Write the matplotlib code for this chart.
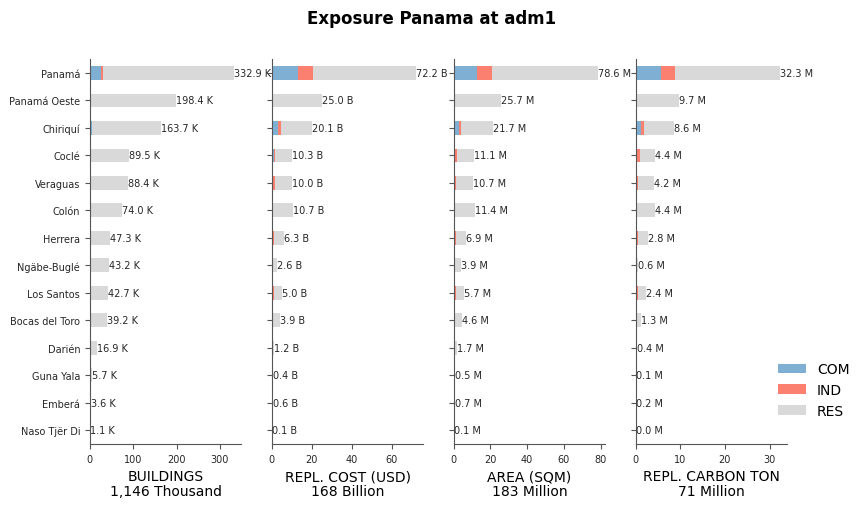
import numpy as np
import matplotlib
matplotlib.use("Agg")
import matplotlib.pyplot as plt

regions = ['Panamá', 'Panamá Oeste', 'Chiriquí', 'Coclé', 'Veraguas', 'Colón',
           'Herrera', 'Ngäbe-Buglé', 'Los Santos', 'Bocas del Toro', 'Darién',
           'Guna Yala', 'Emberá', 'Naso Tjër Di']

# buildings (thousand)
bld_total = [332.9, 198.4, 163.7, 89.5, 88.4, 74.0, 47.3, 43.2, 42.7, 39.2, 16.9, 5.7, 3.6, 1.1]
bld_com = [26.0, 0.8, 5.5, 1.0, 0.8, 0.6, 0.5, 0.1, 0.4, 0.3, 0.1, 0.0, 0.0, 0.0]
bld_ind = [5.0, 0.3, 0.3, 0.4, 0.4, 0.3, 0.3, 0.0, 0.3, 0.1, 0.0, 0.0, 0.0, 0.0]

# replacement cost (billion USD)
cost_total = [72.2, 25.0, 20.1, 10.3, 10.0, 10.7, 6.3, 2.6, 5.0, 3.9, 1.2, 0.4, 0.6, 0.1]
cost_com = [13.3, 0.1, 2.9, 1.1, 0.8, 0.3, 0.6, 0.0, 0.2, 0.1, 0.0, 0.0, 0.0, 0.0]
cost_ind = [7.2, 0.1, 1.5, 0.6, 1.0, 0.5, 0.6, 0.0, 1.1, 0.1, 0.0, 0.0, 0.0, 0.0]

# area (million sqm)
area_total = [78.6, 25.7, 21.7, 11.1, 10.7, 11.4, 6.9, 3.9, 5.7, 4.6, 1.7, 0.5, 0.7, 0.1]
area_com = [12.5, 0.1, 2.7, 0.6, 0.3, 0.3, 0.4, 0.0, 0.2, 0.1, 0.0, 0.0, 0.0, 0.0]
area_ind = [8.2, 0.1, 1.5, 1.3, 0.9, 0.6, 0.8, 0.0, 0.9, 0.1, 0.0, 0.0, 0.0, 0.0]

# replacement carbon (million ton)
carb_total = [32.3, 9.7, 8.6, 4.4, 4.2, 4.4, 2.8, 0.6, 2.4, 1.3, 0.4, 0.1, 0.2, 0.04]
carb_com = [5.6, 0.05, 1.3, 0.2, 0.1, 0.1, 0.2, 0.0, 0.05, 0.02, 0.0, 0.0, 0.0, 0.0]
carb_ind = [3.3, 0.05, 0.7, 0.7, 0.5, 0.3, 0.4, 0.0, 0.4, 0.02, 0.0, 0.0, 0.0, 0.0]

panels = [
    ('BUILDINGS', 'Thousand', 'K', bld_total, bld_com, bld_ind),
    ('REPL. COST (USD)', 'Billion', 'B', cost_total, cost_com, cost_ind),
    ('AREA (SQM)', 'Million', 'M', area_total, area_com, area_ind),
    ('REPL. CARBON TON', 'Million', 'M', carb_total, carb_com, carb_ind),
]

colors = {'COM': '#7fb0d4', 'IND': '#fb8070', 'RES': '#d9d9d9'}
spine_c = '#555555'
text_c = '#262626'

fig, axes = plt.subplots(1, 4, figsize=(8.64, 5.1), dpi=100)
fig.subplots_adjust(left=0.104, right=0.911, bottom=0.1275, top=0.882, wspace=0.2)

y = np.arange(len(regions))
for i, (ax, (name, unit, suf, total, com, ind)) in enumerate(zip(axes, panels)):
    total = np.array(total)
    com = np.array(com)
    ind = np.array(ind)
    res = total - com - ind
    ax.barh(y, com, height=0.5, color=colors['COM'], label='COM')
    ax.barh(y, ind, left=com, height=0.5, color=colors['IND'], label='IND')
    ax.barh(y, res, left=com + ind, height=0.5, color=colors['RES'], label='RES')
    for yy, t in zip(y, total):
        ax.annotate(f'{t:.1f} {suf}', xy=(t, yy), xytext=(0, 0),
                    textcoords='offset points', ha='left', va='center',
                    fontsize=7, color=text_c)
    ax.set_ylim(len(regions) - 0.5, -0.5)
    ax.set_xlim(0, total.max() * 1.05)
    ax.set_yticks(y)
    if i == 0:
        ax.set_yticklabels(regions, fontsize=7, color=text_c)
    else:
        ax.set_yticklabels([])
    ax.tick_params(axis='x', labelsize=7, labelcolor=text_c, color=spine_c)
    ax.tick_params(axis='y', color=spine_c)
    for s in ['top', 'right']:
        ax.spines[s].set_visible(False)
    for s in ['left', 'bottom']:
        ax.spines[s].set_color(spine_c)
    ax.set_xlabel(f'{name}\n{int(total.sum()):,} {unit}', fontsize=10, linespacing=1.1)

handles, labels = axes[0].get_legend_handles_labels()
fig.legend(handles, labels, loc='center left', bbox_to_anchor=(0.886, 0.233),
           frameon=False, fontsize=10)

fig.suptitle('Exposure Panama at adm1', fontsize=12, fontweight='bold', y=0.98)

fig.savefig('out.png', dpi=100)
